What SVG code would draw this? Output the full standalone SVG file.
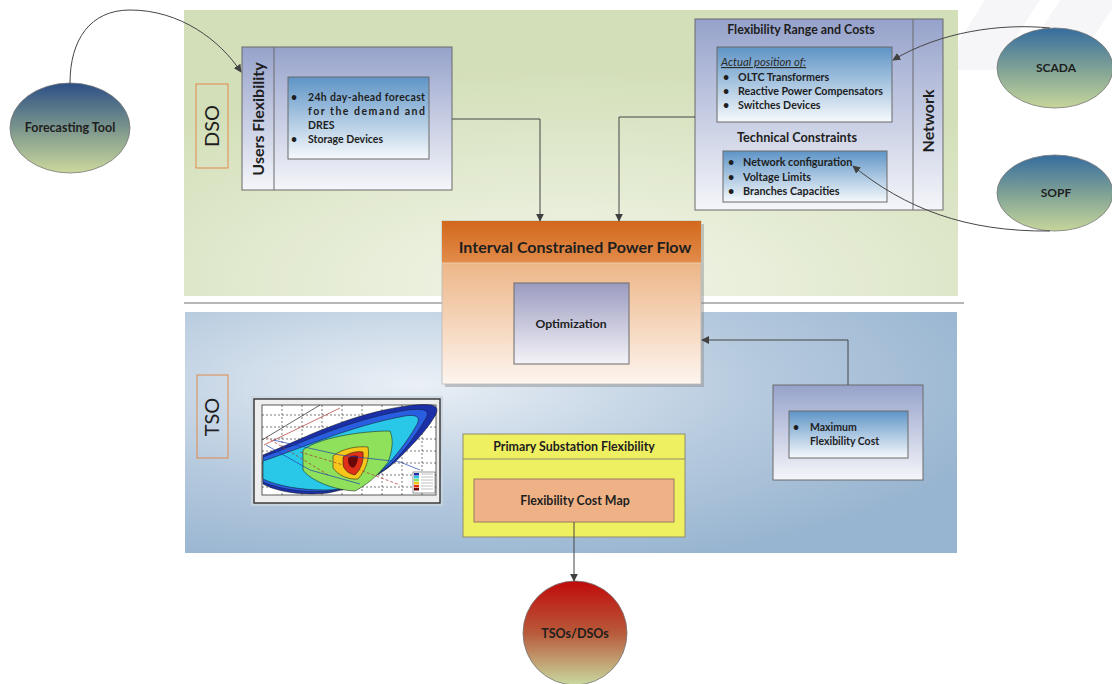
<svg xmlns="http://www.w3.org/2000/svg" width="1112" height="684" viewBox="0 0 1112 684">
  <style>
    .t { font-family: Lato, "Liberation Sans", sans-serif; fill: #1e1e1e; }
    .b { font-weight: bold; }
    .box { stroke: #6a6a6a; stroke-width: 1; }
    .conn { fill: none; stroke: #454545; stroke-width: 1; }
    .grid { stroke: #222; stroke-width: 0.6; stroke-dasharray: 2 2; fill: none; }
  </style>
  <defs>
    <marker id="arr" viewBox="0 0 10 10" refX="9" refY="5" markerWidth="8" markerHeight="8" orient="auto-start-reverse" markerUnits="userSpaceOnUse">
      <path d="M0,0 L10,5 L0,10 Z" fill="#404040"/>
    </marker>
    <linearGradient id="gTool" x1="0" y1="0" x2="0" y2="1">
      <stop offset="0" stop-color="#2c4f86"/>
      <stop offset="0.5" stop-color="#7a958c"/>
      <stop offset="1" stop-color="#ccd89c"/>
    </linearGradient>
    <linearGradient id="gTool2" x1="0" y1="0" x2="0" y2="1">
      <stop offset="0" stop-color="#356c9e"/>
      <stop offset="0.5" stop-color="#7ea196"/>
      <stop offset="1" stop-color="#c6d69a"/>
    </linearGradient>
    <linearGradient id="gRed" x1="0" y1="0" x2="0" y2="1">
      <stop offset="0" stop-color="#c00a0a"/>
      <stop offset="0.5" stop-color="#b85a3a"/>
      <stop offset="1" stop-color="#c9d9a0"/>
    </linearGradient>
    <linearGradient id="gOuter" x1="0" y1="0" x2="0" y2="1">
      <stop offset="0" stop-color="#96a2cb"/>
      <stop offset="1" stop-color="#f5f6fa"/>
    </linearGradient>
    <linearGradient id="gInner" x1="0" y1="0" x2="0" y2="1">
      <stop offset="0" stop-color="#5e94c6"/>
      <stop offset="1" stop-color="#f6f9fc"/>
    </linearGradient>
    <linearGradient id="gHead" x1="0" y1="0" x2="0" y2="1">
      <stop offset="0" stop-color="#d2681c"/>
      <stop offset="1" stop-color="#e28c4c"/>
    </linearGradient>
    <linearGradient id="gBody" x1="0" y1="0" x2="0" y2="1">
      <stop offset="0" stop-color="#e8a064"/>
      <stop offset="1" stop-color="#fdf5ef"/>
    </linearGradient>
    <linearGradient id="gOpt" x1="0" y1="0" x2="0" y2="1">
      <stop offset="0" stop-color="#9b9bc0"/>
      <stop offset="1" stop-color="#f4f3f8"/>
    </linearGradient>
    <radialGradient id="gDso" cx="0.5" cy="0.95" r="0.75">
      <stop offset="0" stop-color="#f3f6ea"/>
      <stop offset="1" stop-color="#d3dfb9"/>
    </radialGradient>
    <radialGradient id="gTso" cx="0.3" cy="0.3" r="0.8">
      <stop offset="0" stop-color="#eaf0f6"/>
      <stop offset="0.55" stop-color="#b6cade"/>
      <stop offset="1" stop-color="#97b4d0"/>
    </radialGradient>
  </defs>

  <rect width="1112" height="684" fill="#ffffff"/>

  <!-- faint background bands, top right -->
  <g fill="#f6f6f8">
    <polygon points="985,0 1040,0 995,70 940,70"/>
    <polygon points="1060,0 1112,0 1112,10 1070,70 1015,70"/>
  </g>

  <!-- domain panels -->
  <g id="dso-panel">
    <rect x="184" y="10" width="774" height="286" fill="url(#gDso)"/>
    <rect x="196" y="84" width="32" height="84" fill="none" stroke="#e0894a" stroke-width="1"/>
    <text class="t" transform="translate(219,126) rotate(-90)" text-anchor="middle" font-size="20">DSO</text>
  </g>
  <line x1="184" y1="303" x2="964" y2="303" stroke="#6e6e6e" stroke-width="1"/>
  <g id="tso-panel">
    <rect x="185" y="312" width="772" height="241" fill="url(#gTso)"/>
    <rect x="197" y="375" width="31" height="83" fill="none" stroke="#e0894a" stroke-width="1"/>
    <text class="t" transform="translate(219,417) rotate(-90)" text-anchor="middle" font-size="20">TSO</text>
  </g>

  <!-- external tools -->
  <g id="forecasting-tool">
    <ellipse cx="70" cy="128" rx="60" ry="45" fill="url(#gTool)" stroke="#777" stroke-width="0.8"/>
    <text class="t b" x="70" y="132" text-anchor="middle" font-size="12.5">Forecasting Tool</text>
  </g>
  <g id="scada">
    <ellipse cx="1055" cy="68" rx="58" ry="40" fill="url(#gTool2)" stroke="#777" stroke-width="0.8"/>
    <text class="t b" x="1056" y="72" text-anchor="middle" font-size="12">SCADA</text>
  </g>
  <g id="sopf">
    <ellipse cx="1055" cy="193" rx="58" ry="38" fill="url(#gTool2)" stroke="#777" stroke-width="0.8"/>
    <text class="t b" x="1056" y="197" text-anchor="middle" font-size="12">SOPF</text>
  </g>

  <!-- users flexibility -->
  <g id="users-flexibility">
    <rect class="box" x="242" y="47" width="210" height="143" fill="url(#gOuter)"/>
    <line x1="274" y1="47" x2="274" y2="190" stroke="#6a6a6a"/>
    <text class="t b" transform="translate(264,119) rotate(-90)" text-anchor="middle" font-size="16">Users Flexibility</text>
    <rect class="box" x="288" y="77" width="141" height="82" fill="url(#gInner)"/>
    <g class="t b" font-size="10.5">
      <text x="291" y="101">•</text>
      <text x="308" y="101" textLength="117" lengthAdjust="spacing">24h day-ahead forecast</text>
      <text x="308" y="115" textLength="117" lengthAdjust="spacing">for the demand and</text>
      <text x="308" y="129">DRES</text>
      <text x="291" y="143">•</text>
      <text x="308" y="143">Storage Devices</text>
    </g>
  </g>

  <!-- network -->
  <g id="network">
    <rect class="box" x="695" y="19" width="248" height="191" fill="url(#gOuter)"/>
    <line x1="913" y1="19" x2="913" y2="210" stroke="#6a6a6a"/>
    <text class="t b" transform="translate(934,121) rotate(-90)" text-anchor="middle" font-size="16">Network</text>
    <text class="t b" x="801" y="34" text-anchor="middle" font-size="12.4">Flexibility Range and Costs</text>
    <rect class="box" x="717" y="47" width="175" height="75" fill="url(#gInner)"/>
    <g class="t" font-size="10.7">
      <text x="721" y="66" font-style="italic" text-decoration="underline" fill="#2a2a2a" font-size="11.3">Actual position of:</text>
      <g class="b">
        <text x="723" y="81">•</text><text x="738" y="81">OLTC Transformers</text>
        <text x="723" y="95">•</text><text x="738" y="95">Reactive Power Compensators</text>
        <text x="723" y="109">•</text><text x="738" y="109">Switches Devices</text>
      </g>
    </g>
    <text class="t b" x="797" y="142" text-anchor="middle" font-size="12.7">Technical Constraints</text>
    <rect class="box" x="723" y="151" width="164" height="51" fill="url(#gInner)"/>
    <g class="t b" font-size="10.8">
      <text x="728" y="166">•</text><text x="743" y="166">Network configuration</text>
      <text x="728" y="181">•</text><text x="743" y="181">Voltage Limits</text>
      <text x="728" y="195">•</text><text x="743" y="195">Branches Capacities</text>
    </g>
  </g>

  <!-- interval constrained power flow -->
  <g id="icpf">
    <rect x="445" y="224" width="259" height="163" fill="#8a8a8a" opacity="0.45"/>
    <rect x="442" y="221" width="259" height="163" fill="url(#gBody)" stroke="#b8b8b8" stroke-width="0.8"/>
    <rect x="442" y="221" width="259" height="42" fill="url(#gHead)"/>
    <line x1="442" y1="263" x2="701" y2="263" stroke="#f0c9a4" stroke-width="1.2"/>
    <text class="t b" x="575" y="253" text-anchor="middle" font-size="16">Interval Constrained Power Flow</text>
    <rect class="box" x="514" y="283" width="115" height="81" fill="url(#gOpt)"/>
    <text class="t b" x="571" y="328" text-anchor="middle" font-size="12.2">Optimization</text>
  </g>

  <!-- maximum flexibility cost -->
  <g id="max-flex-cost">
    <rect class="box" x="773" y="385" width="150" height="95" fill="url(#gOuter)"/>
    <rect class="box" x="789" y="411" width="119" height="47" fill="url(#gInner)"/>
    <g class="t b" font-size="10.5">
      <text x="793" y="431">•</text>
      <text x="810" y="431">Maximum</text>
      <text x="810" y="445">Flexibility Cost</text>
    </g>
  </g>

  <!-- primary substation flexibility -->
  <g id="primary-substation">
    <rect x="463" y="434" width="222" height="103" fill="#efef62" stroke="#8d8d70" stroke-width="1"/>
    <line x1="463" y1="459" x2="685" y2="459" stroke="#8d8d70"/>
    <text class="t b" x="574" y="451" text-anchor="middle" font-size="12.4">Primary Substation Flexibility</text>
    <rect x="474" y="479" width="200" height="43" fill="#efb286" stroke="#9a7a60" stroke-width="1"/>
    <text class="t b" x="575" y="505" text-anchor="middle" font-size="12.4">Flexibility Cost Map</text>
  </g>

  <!-- flexibility map chart -->
  <g id="flex-chart">
    <rect x="251" y="396" width="192" height="110" fill="#c9d4e0" opacity="0.8"/>
    <rect x="254" y="399" width="186" height="104" fill="#eeeeee" stroke="#333" stroke-width="1.4"/>
    <rect x="262" y="405" width="174" height="90" fill="#ffffff" stroke="#333" stroke-width="0.8"/>
    <path class="grid" d="M282,405 V495 M302,405 V495 M322,405 V495 M342,405 V495 M362,405 V495 M382,405 V495 M402,405 V495 M422,405 V495 M262,415 H436 M262,427 H436 M262,439 H436 M262,451 H436 M262,463 H436 M262,475 H436 M262,487 H436"/>
    <path d="M263,455 C300,440 350,413 410,405.5 C432,403 440,405 436,414 C429,428 410,448 395,462 C380,476 355,488 328,493 C300,496 275,491 263,484 Z" fill="#1a2fa8" stroke="#111" stroke-width="0.5"/>
    <path d="M263,457 C300,444 350,419 408,410 C426,408 430,411 426,418 C418,432 404,452 390,465 C375,478 352,488 328,491 C300,493 277,488 263,482 Z" fill="#2a5ee0" stroke="#111" stroke-width="0.4"/>
    <path d="M263,461 C300,449 350,426 405,416 C418,414 421,418 416,426 C408,440 395,458 380,472 C365,484 345,490 325,490 C300,490 278,486 263,479 Z" fill="#29c8e8" stroke="#111" stroke-width="0.5"/>
    <path d="M303,450 C318,438 360,431 390,431 C394,440 392,452 388,462 C378,476 365,486 355,491 C333,490 310,480 303,470 Z" fill="#8fe05a" stroke="#111" stroke-width="0.5"/>
    <path d="M333,456 C343,448 358,446 368,447 C370,458 366,470 358,479 C348,480 338,475 333,468 Z" fill="#f6c61a" stroke="#111" stroke-width="0.5"/>
    <path d="M343,457 C350,452 358,451 363,452 C364,461 361,469 355,475 C349,474 344,470 343,465 Z" fill="#e03018" stroke="#111" stroke-width="0.5"/>
    <path d="M348,458 C352,455 356,455 358,456 C358,462 356,466 353,468 C350,467 348,464 348,461 Z" fill="#6a0808"/>
    <g fill="none" stroke-width="0.7">
      <path d="M262,440 L320,405" stroke="#222"/>
      <path d="M264,445 L340,408" stroke="#b03030"/>
      <path d="M266,437 L330,476" stroke="#b03030" stroke-dasharray="3 2"/>
      <path d="M300,452 L360,470 L400,485" stroke="#b03030" stroke-dasharray="3 2"/>
      <path d="M273,440 L340,455 L400,462 L420,470" stroke="#2040b0"/>
      <path d="M266,445 L310,470 L360,484" stroke="#2040b0"/>
    </g>
    <rect x="413" y="472" width="22" height="21" fill="#fff" stroke="#333" stroke-width="0.5"/>
    <g>
      <rect x="414" y="473" width="5" height="2.5" fill="#1a2fa8"/>
      <rect x="414" y="476" width="5" height="2.5" fill="#29c8e8"/>
      <rect x="414" y="479" width="5" height="2.5" fill="#8fe05a"/>
      <rect x="414" y="482" width="5" height="2.5" fill="#f6c61a"/>
      <rect x="414" y="485" width="5" height="2.5" fill="#e03018"/>
      <rect x="414" y="488" width="5" height="2.5" fill="#6a0808"/>
      <path d="M421,474 H433 M421,477 H433 M421,480 H433 M421,483 H433 M421,486 H433 M421,489 H433" stroke="#999" stroke-width="0.6"/>
    </g>
  </g>

  <!-- recipients -->
  <g id="tsos-dsos">
    <circle cx="575" cy="633" r="52" fill="url(#gRed)" stroke="#777" stroke-width="0.8"/>
    <text class="t b" x="575" y="638" text-anchor="middle" font-size="12.5">TSOs/DSOs</text>
  </g>

  <!-- connectors, drawn last so they sit over the boxes -->
  <g id="connectors">
    <path class="conn" d="M70,83 C70,40 90,10 130,10 C180,10 220,40 241,72" marker-end="url(#arr)"/>
    <path class="conn" d="M452,119 H540 V221" marker-end="url(#arr)"/>
    <path class="conn" d="M695,117 H619 V221" marker-end="url(#arr)"/>
    <path class="conn" d="M1050,28 C1000,23 940,32 893,60" marker-end="url(#arr)"/>
    <path class="conn" d="M1050,231 C965,232 905,208 853,166" marker-end="url(#arr)"/>
    <path class="conn" d="M848,385 V340 H702" marker-end="url(#arr)"/>
    <path class="conn" d="M574,522 V581" marker-end="url(#arr)"/>
  </g>
</svg>
